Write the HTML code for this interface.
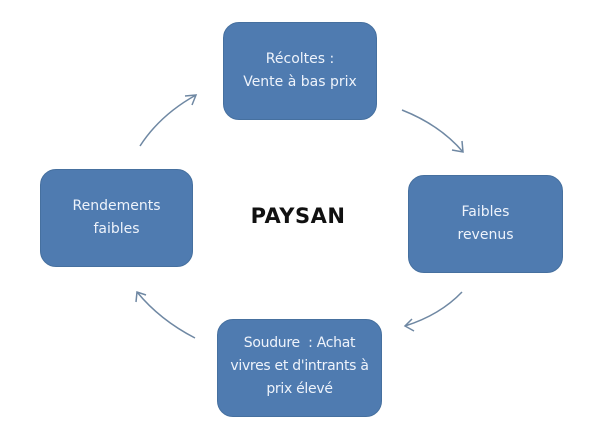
<!DOCTYPE html>
<html><head><meta charset="utf-8"><style>
body{margin:0;width:600px;height:440px;background:#fff;position:relative;overflow:hidden;font-family:"DejaVu Sans","Liberation Sans",sans-serif}
.b{position:absolute;background:#4f7bb0;border:1px solid #46709f;border-radius:16px;color:#eef3fb;font-size:14px;line-height:23px;text-align:center;display:flex;align-items:center;justify-content:center;box-sizing:border-box}
svg{position:absolute;left:0;top:0}
</style></head><body>
<div class="b" style="left:223px;top:22px;width:154px;height:98px">Récoltes :<br>Vente à bas prix</div>
<div class="b" style="left:408px;top:175px;width:155px;height:98px">Faibles<br>revenus</div>
<div class="b" style="left:217px;top:319px;width:165px;height:98px;padding-bottom:4px;letter-spacing:-0.3px">Soudure&nbsp; : Achat<br>vivres et d'intrants à<br>prix élevé</div>
<div class="b" style="left:40px;top:169px;width:153px;height:98px">Rendements<br>faibles</div>
<div style="position:absolute;left:228px;top:204px;width:140px;text-align:center;font-size:21px;font-weight:bold;color:#111;letter-spacing:0.5px">PAYSAN</div>
<svg width="600" height="440" fill="none" stroke="#6f88a3" stroke-width="1.5">
<path d="M140 146 Q160 115 196 95"/><path d="M185 96 L196 95 L192 105"/>
<path d="M402 110 Q440 125 463 152"/><path d="M452 150 L463 152 L462 141"/>
<path d="M462 292 Q440 315 405 326"/><path d="M412 319 L405 326 L414 331"/>
<path d="M195 338 Q160 320 137 292"/><path d="M136 302 L137 292 L146 295"/>
</svg>
</body></html>
